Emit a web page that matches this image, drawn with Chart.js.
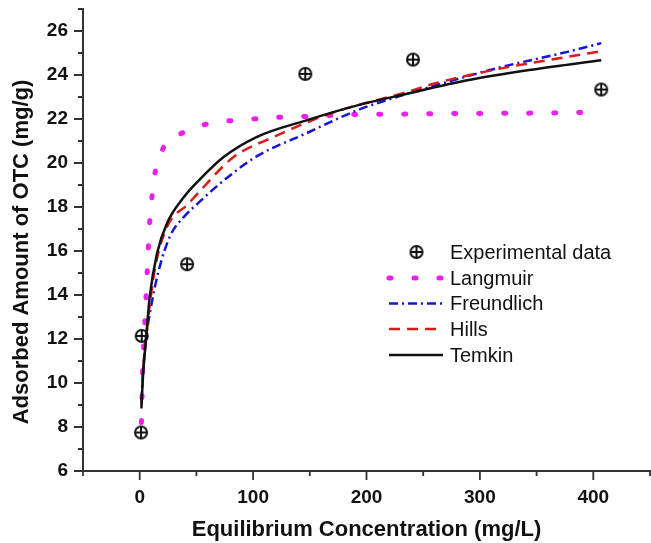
<!DOCTYPE html>
<html>
<head>
<meta charset="utf-8">
<script src="https://cdn.jsdelivr.net/npm/chart.js@4.4.1/dist/chart.umd.min.js"></script>
<style>
  html, body { margin: 0; padding: 0; background: #fff; overflow: hidden; }
  #wrap { width: 651px; height: 543px; position: relative; }
</style>
</head>
<body>
<div id="wrap"><canvas id="isoChart"></canvas></div>
<script>
// values (Ce in mg/L, qe in mg/g)
const expC = [1.2, 1.8, 41.8, 146, 241, 407];
const expQ = [7.75, 12.14, 15.4, 24.05, 24.7, 23.34];

const langC = [1.5, 2, 2.5, 3.5, 4.5, 5.5, 6.5, 7.5, 8.7, 10.5, 13, 20, 39, 62, 84, 106, 128, 150, 185, 230, 260, 300, 350, 400];
const langQ = [8.2, 9.3, 10.5, 11.6, 12.7, 13.8, 14.9, 16.0, 17.2, 18.3, 19.4, 20.6, 21.4, 21.8, 21.94, 22.02, 22.09, 22.12, 22.2, 22.22, 22.24, 22.25, 22.27, 22.3];

const freuC = [1.5, 3, 5, 9.4, 16.7, 27, 39, 52, 74, 103, 147, 192, 236, 259, 318, 377, 407];
const freuQ = [9.2, 10.6, 11.8, 13.3, 15.1, 16.7, 17.55, 18.2, 19.2, 20.3, 21.35, 22.4, 23.15, 23.5, 24.35, 25.05, 25.45];

const hillC = [1.5, 3, 5, 8.5, 13.8, 24.1, 43, 53.5, 82.8, 118, 168, 236, 259, 318, 377, 407];
const hillQ = [9.0, 10.5, 11.7, 13.4, 15.3, 17.1, 18.15, 18.75, 20.27, 21.18, 22.25, 23.23, 23.6, 24.29, 24.82, 25.08];

const temkC = [1.5, 3, 5, 8.8, 15.3, 24, 39, 52, 74, 103, 147, 192, 236, 289, 347, 407];
const temkQ = [8.84, 10.4, 11.64, 13.9, 15.9, 17.25, 18.45, 19.2, 20.27, 21.18, 21.94, 22.62, 23.15, 23.76, 24.25, 24.67];

const xTicks = [0, 100, 200, 300, 400];
const yTicks = [6, 8, 10, 12, 14, 16, 18, 20, 22, 24, 26];

function toPoints(xs, ys) {
    return xs.map((x, i) => ({ x: x, y: ys[i] }));
}

function makeMarker() {
    const c = document.createElement("canvas");
    c.width = 16;
    c.height = 16;
    const g = c.getContext("2d");
    g.strokeStyle = "#111";
    g.lineWidth = 2;
    g.beginPath();
    g.arc(8, 8, 6, 0, Math.PI * 2);
    g.stroke();
    g.beginPath();
    g.moveTo(2, 8); g.lineTo(14, 8);
    g.moveTo(8, 2); g.lineTo(8, 14);
    g.stroke();
    return c;
}
const marker = makeMarker();

const MAGENTA = "#ee1eee";
const BLUE = "#1414d2";
const RED = "#dd1a1a";
const BLACK = "#111111";

const lineBase = {
    showLine: true,
    pointRadius: 0,
    borderWidth: 2.5,
    fill: false,
    cubicInterpolationMode: "monotone"
};

// tick marks (major/minor), y title and legend
const extras = {
    id: "extras",
    afterDraw(chart) {
        const ctx = chart.ctx;
        const xs = chart.scales.x;
        const ys = chart.scales.y;
        ctx.save();
        ctx.strokeStyle = "#333";
        ctx.lineWidth = 1.8;
        ctx.beginPath();
        for (let v = 6; v <= 27; v++) {
            const len = v % 2 === 0 ? 9 : 5;
            const py = ys.getPixelForValue(v);
            ctx.moveTo(ys.right - len, py);
            ctx.lineTo(ys.right, py);
        }
        for (let v = -50; v <= 450; v += 50) {
            const len = v % 100 === 0 ? 9 : 5;
            const px = xs.getPixelForValue(v);
            ctx.moveTo(px, xs.top);
            ctx.lineTo(px, xs.top + len);
        }
        ctx.stroke();

        // y axis title
        ctx.save();
        ctx.translate(22, 252);
        ctx.rotate(-Math.PI / 2);
        ctx.fillStyle = "#111";
        ctx.font = "bold 22px Arial, 'Liberation Sans', sans-serif";
        ctx.textAlign = "center";
        ctx.textBaseline = "middle";
        ctx.fillText("Adsorbed Amount of OTC (mg/g)", 0, 0);
        ctx.restore();

        // legend
        const x0 = 389, x1 = 443, tx = 450;
        const rows = [252, 278, 303.5, 329, 355];
        ctx.font = "20px Arial, 'Liberation Sans', sans-serif";
        ctx.textBaseline = "middle";
        ctx.fillStyle = "#111";
        chart.data.datasets.forEach((ds, i) => {
            const y = rows[i];
            if (ds.pointStyle === marker) {
                ctx.drawImage(marker, 416.5 - 8, y - 8);
            } else {
                ctx.save();
                ctx.strokeStyle = ds.borderColor;
                ctx.lineWidth = ds.borderWidth;
                ctx.lineCap = ds.borderCapStyle || "butt";
                ctx.setLineDash(ds.borderDash || []);
                ctx.beginPath();
                ctx.moveTo(x0, y);
                ctx.lineTo(x1, y);
                ctx.stroke();
                ctx.restore();
            }
            ctx.fillText(ds.label, tx, y + 1);
        });
        ctx.restore();
    }
};

function noPad(scale) {
    scale.paddingTop = 0;
    scale.paddingBottom = 0;
    scale.paddingLeft = 0;
    scale.paddingRight = 0;
}

const ctx = document.getElementById("isoChart").getContext("2d");
new Chart(ctx, {
    type: "scatter",
    data: {
        datasets: [
            {
                label: "Experimental data",
                data: toPoints(expC, expQ),
                pointStyle: marker,
                pointRadius: 7,
                showLine: false,
                clip: false,
                order: 0
            },
            Object.assign({}, lineBase, {
                label: "Langmuir",
                data: toPoints(langC, langQ),
                borderColor: MAGENTA,
                borderWidth: 5,
                borderDash: [2, 23],
                borderCapStyle: "round",
                order: 4
            }),
            Object.assign({}, lineBase, {
                label: "Freundlich",
                data: toPoints(freuC, freuQ),
                borderColor: BLUE,
                borderDash: [9, 4, 2, 4],
                order: 3
            }),
            Object.assign({}, lineBase, {
                label: "Hills",
                data: toPoints(hillC, hillQ),
                borderColor: RED,
                borderDash: [11, 7],
                order: 2
            }),
            Object.assign({}, lineBase, {
                label: "Temkin",
                data: toPoints(temkC, temkQ),
                borderColor: BLACK,
                order: 1
            })
        ]
    },
    options: {
        responsive: true,
        maintainAspectRatio: false,
        animation: false,
        layout: { autoPadding: false, padding: { top: 9, right: 1, left: 0, bottom: 0 } },
        plugins: {
            legend: { display: false },
            tooltip: { enabled: false }
        },
        scales: {
            x: {
                type: "linear",
                min: -50,
                max: 450,
                grid: { display: false, drawTicks: false },
                border: { display: true, color: "#333", width: 2 },
                ticks: {
                    stepSize: 50,
                    autoSkip: false,
                    maxRotation: 0,
                    padding: 15,
                    color: "#111",
                    font: { size: 19, weight: "bold", family: "Arial, 'Liberation Sans', sans-serif" },
                    callback: (v) => xTicks.includes(v) ? String(v) : ""
                },
                title: {
                    display: true,
                    text: "Equilibrium Concentration (mg/L)",
                    color: "#111",
                    padding: 0,
                    font: { size: 22, weight: "bold", family: "Arial, 'Liberation Sans', sans-serif" }
                },
                afterFit: (scale) => { scale.height = 72; noPad(scale); }
            },
            y: {
                min: 6,
                max: 27,
                grid: { display: false, drawTicks: false },
                border: { display: true, color: "#333", width: 2 },
                ticks: {
                    stepSize: 1,
                    autoSkip: false,
                    padding: 15,
                    color: "#111",
                    font: { size: 19, weight: "bold", family: "Arial, 'Liberation Sans', sans-serif" },
                    callback: (v) => yTicks.includes(v) ? String(v) : ""
                },
                afterFit: (scale) => { scale.width = 83; noPad(scale); }
            }
        }
    },
    plugins: [extras]
});
</script>
</body>
</html>
